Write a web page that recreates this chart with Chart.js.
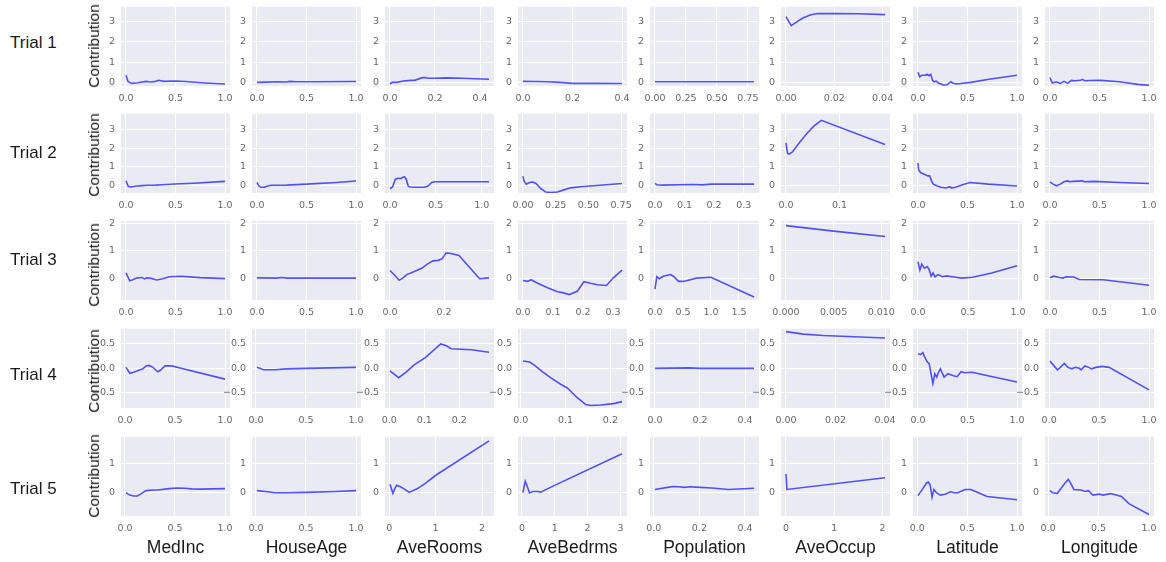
<!DOCTYPE html>
<html>
<head>
<meta charset="utf-8">
<script src="https://cdn.jsdelivr.net/npm/chart.js@4.4.0/dist/chart.umd.min.js"></script>
<style>
  body { margin:0; background:#fff; width:1166px; height:562px; overflow:hidden; position:relative; font-family:"Liberation Sans", Arial, sans-serif; color:#1a1a1a; }
  canvas { position:absolute; }
  .trial { position:absolute; left:10px; font-size:17px; transform:translateY(-50%); white-space:nowrap; }
  .ylab { position:absolute; font-size:15.5px; transform:translate(-50%,-50%) rotate(-90deg); white-space:nowrap; }
  .feat { position:absolute; font-size:17.5px; transform:translate(-50%,-50%); white-space:nowrap; }
</style>
</head>
<body>
<script>
const features = ['MedInc', 'HouseAge', 'AveRooms', 'AveBedrms', 'Population', 'AveOccup', 'Latitude', 'Longitude'];
const trials = ['Trial 1', 'Trial 2', 'Trial 3', 'Trial 4', 'Trial 5'];

// [x, y] points per feature, same order as features
const trial1 = [
  [[0,0.35],[0.02,0.05],[0.06,-0.05],[0.12,-0.02],[0.2,0.05],[0.25,0.02],[0.3,0.05],[0.33,0.1],[0.38,0.05],[0.5,0.07],[0.6,0.04],[0.8,-0.03],[1.0,-0.08]],
  [[0,0.0],[0.1,0.01],[0.2,0.03],[0.3,0.02],[0.33,0.05],[0.4,0.03],[0.6,0.03],[1,0.04]],
  [[0,-0.08],[0.01,0.0],[0.03,0.0],[0.06,0.07],[0.09,0.1],[0.11,0.1],[0.14,0.22],[0.155,0.24],[0.17,0.2],[0.2,0.2],[0.25,0.22],[0.32,0.2],[0.44,0.15]],
  [[0,0.05],[0.05,0.04],[0.1,0.03],[0.15,0.0],[0.2,-0.05],[0.3,-0.05],[0.4,-0.06]],
  [[0,0.03],[0.4,0.03],[0.8,0.03]],
  [[0,3.25],[0.0022,2.8],[0.004,2.95],[0.007,3.18],[0.01,3.33],[0.013,3.4],[0.02,3.4],[0.03,3.39],[0.041,3.35]],
  [[0,0.5],[0.018,0.27],[0.037,0.35],[0.074,0.35],[0.092,0.4],[0.11,0.33],[0.129,0.4],[0.147,0.1],[0.165,0.03],[0.184,0.06],[0.21,-0.05],[0.257,-0.13],[0.294,-0.12],[0.33,0.03],[0.35,-0.03],[0.386,-0.08],[0.533,0],[0.717,0.15],[1.0,0.35]],
  [[0,0.24],[0.022,-0.02],[0.067,0.02],[0.104,-0.05],[0.142,0.05],[0.179,-0.05],[0.216,0.1],[0.254,0.08],[0.31,0.1],[0.328,0.15],[0.35,0.08],[0.403,0.09],[0.515,0.1],[0.7,0.03],[0.888,-0.1],[1.0,-0.15]]
];
const trial2 = [
  [[0,0.23],[0.023,-0.07],[0.05,-0.1],[0.106,-0.05],[0.16,-0.03],[0.22,-0.01],[0.3,0.0],[0.37,0.02],[0.49,0.06],[0.68,0.1],[1,0.2]],
  [[0,0.15],[0.02,-0.05],[0.04,-0.12],[0.076,-0.11],[0.115,-0.04],[0.15,-0.01],[0.3,0.0],[0.5,0.05],[0.8,0.14],[1,0.22]],
  [[0,-0.2],[0.028,-0.1],[0.059,0.32],[0.09,0.37],[0.12,0.36],[0.138,0.41],[0.158,0.45],[0.178,0.32],[0.198,-0.05],[0.217,-0.1],[0.296,-0.12],[0.375,-0.12],[0.415,-0.05],[0.455,0.14],[0.494,0.18],[1.08,0.18]],
  [[0,0.48],[0.008,0.22],[0.025,0.05],[0.05,0.14],[0.075,0.17],[0.1,0.09],[0.138,-0.2],[0.175,-0.38],[0.213,-0.4],[0.263,-0.38],[0.313,-0.26],[0.363,-0.15],[0.438,-0.09],[0.563,-0.02],[0.757,0.09]],
  [[0,0.09],[0.006,0.02],[0.025,0.0],[0.125,0.03],[0.16,0.01],[0.19,0.05],[0.335,0.05]],
  [[0,2.3],[0.003,1.72],[0.006,1.68],[0.012,1.8],[0.025,2.3],[0.039,2.8],[0.052,3.2],[0.066,3.52],[0.185,2.2]],
  [[0,1.2],[0.007,0.82],[0.026,0.68],[0.063,0.59],[0.1,0.5],[0.118,0.5],[0.137,0.23],[0.155,0.05],[0.19,-0.04],[0.23,-0.12],[0.285,-0.16],[0.32,-0.09],[0.34,-0.16],[0.378,-0.12],[0.45,0.02],[0.526,0.14],[0.71,0.05],[1,-0.05]],
  [[0,0.18],[0.03,0.05],[0.067,-0.04],[0.104,0.05],[0.142,0.18],[0.179,0.23],[0.198,0.18],[0.235,0.2],[0.328,0.23],[0.347,0.18],[0.44,0.2],[0.7,0.14],[1,0.09]]
];
const trial3 = [
  [[0,0.19],[0.038,-0.1],[0.068,-0.06],[0.105,0.0],[0.16,0.02],[0.19,-0.03],[0.21,0.01],[0.256,-0.01],[0.31,-0.07],[0.37,-0.02],[0.44,0.05],[0.556,0.07],[0.744,0.02],[1,-0.02]],
  [[0,0.01],[0.2,0.0],[0.25,0.02],[0.3,0.0],[1,0.0]],
  [[0,0.28],[0.021,0.07],[0.034,-0.08],[0.048,0.01],[0.062,0.13],[0.09,0.24],[0.117,0.36],[0.138,0.51],[0.159,0.63],[0.179,0.65],[0.193,0.71],[0.207,0.92],[0.221,0.91],[0.255,0.83],[0.297,0.36],[0.331,-0.02],[0.345,-0.01],[0.366,0.01]],
  [[0,-0.09],[0.016,-0.12],[0.027,-0.06],[0.049,-0.19],[0.082,-0.35],[0.115,-0.5],[0.132,-0.53],[0.154,-0.6],[0.181,-0.48],[0.203,-0.13],[0.225,-0.19],[0.247,-0.24],[0.278,-0.27],[0.302,0.02],[0.33,0.29]],
  [[0,-0.4],[0.033,0.05],[0.08,-0.02],[0.146,0.07],[0.278,0.13],[0.33,0.07],[0.42,-0.12],[0.51,-0.12],[0.74,0.0],[1.0,0.03],[1.77,-0.69]],
  [[0,1.92],[0.005,1.72],[0.0104,1.52]],
  [[0,0.6],[0.019,0.3],[0.038,0.51],[0.064,0.36],[0.094,0.42],[0.113,0.3],[0.132,0.07],[0.151,0.19],[0.17,0.05],[0.2,0.13],[0.245,0.05],[0.283,0.08],[0.358,0.04],[0.434,0.0],[0.547,0.03],[0.736,0.19],[0.99,0.45]],
  [[0,0.01],[0.037,0.07],[0.093,0.02],[0.13,0.0],[0.167,0.05],[0.24,0.04],[0.296,-0.05],[0.537,-0.06],[1,-0.26]]
];
const trial4 = [
  [[0.01,0.02],[0.049,-0.1],[0.087,-0.08],[0.125,-0.05],[0.18,-0.01],[0.21,0.05],[0.24,0.06],[0.28,0.02],[0.327,-0.07],[0.354,-0.04],[0.4,0.05],[0.468,0.05],[0.56,0.0],[1,-0.22]],
  [[0.01,0.02],[0.076,-0.03],[0.115,-0.03],[0.19,-0.03],[0.3,-0.01],[0.5,0.0],[1,0.02]],
  [[0.002,-0.05],[0.027,-0.19],[0.049,-0.07],[0.071,0.07],[0.103,0.22],[0.147,0.5],[0.163,0.46],[0.177,0.4],[0.234,0.38],[0.285,0.33]],
  [[0.005,0.15],[0.02,0.13],[0.031,0.06],[0.049,-0.07],[0.068,-0.2],[0.09,-0.33],[0.104,-0.4],[0.126,-0.6],[0.145,-0.74],[0.156,-0.76],[0.178,-0.75],[0.207,-0.72],[0.226,-0.68]],
  [[0,0.0],[0.15,0.01],[0.2,0.0],[0.44,0.0]],
  [[0,0.75],[0.007,0.7],[0.015,0.67],[0.04,0.62]],
  [[0,0.3],[0.026,0.28],[0.049,0.32],[0.064,0.25],[0.094,0.13],[0.113,0.1],[0.132,-0.11],[0.151,-0.31],[0.17,-0.11],[0.189,-0.18],[0.208,-0.08],[0.226,-0.01],[0.264,-0.18],[0.302,-0.11],[0.358,-0.15],[0.396,-0.17],[0.434,-0.07],[0.472,-0.09],[0.547,-0.08],[0.66,-0.13],[1,-0.28]],
  [[0.008,0.15],[0.057,0.03],[0.083,-0.03],[0.113,0.02],[0.151,0.1],[0.189,0.02],[0.226,-0.01],[0.264,0.02],[0.302,0.0],[0.32,-0.03],[0.358,0.05],[0.396,0.02],[0.423,-0.01],[0.47,0.02],[0.528,0.04],[0.6,0.02],[1,-0.44]]
];
const trial5 = [
  [[0.01,0.0],[0.049,-0.08],[0.086,-0.11],[0.124,-0.11],[0.16,-0.04],[0.21,0.07],[0.274,0.09],[0.33,0.09],[0.44,0.14],[0.52,0.16],[0.594,0.15],[0.67,0.13],[0.744,0.12],[1,0.14]],
  [[0.01,0.07],[0.115,0.03],[0.19,0.0],[0.3,0.0],[0.5,0.01],[0.8,0.04],[1,0.07]],
  [[0.016,0.29],[0.08,-0.02],[0.12,0.14],[0.16,0.25],[0.24,0.2],[0.32,0.13],[0.43,0.01],[0.61,0.14],[0.77,0.31],[1.01,0.6],[2.15,1.76]],
  [[0.03,0.0],[0.1,0.39],[0.16,0.22],[0.23,-0.01],[0.33,0.04],[0.48,0.04],[0.58,0.02],[0.68,0.08],[1.09,0.3],[3.05,1.32]],
  [[0.005,0.11],[0.029,0.14],[0.061,0.18],[0.085,0.21],[0.11,0.2],[0.134,0.18],[0.158,0.2],[0.182,0.19],[0.255,0.16],[0.327,0.11],[0.44,0.15]],
  [[0,0.64],[0.02,0.11],[2.05,0.51]],
  [[0.007,-0.1],[0.056,0.14],[0.093,0.33],[0.111,0.36],[0.13,0.25],[0.148,-0.15],[0.167,0.11],[0.193,0.0],[0.23,-0.08],[0.278,-0.05],[0.333,0.03],[0.37,0.0],[0.407,0.0],[0.48,0.11],[0.537,0.11],[0.59,0.03],[0.7,-0.13],[1,-0.24]],
  [[0.018,0.07],[0.044,0.0],[0.091,-0.02],[0.127,0.14],[0.164,0.31],[0.2,0.45],[0.225,0.31],[0.255,0.11],[0.327,0.09],[0.364,0.04],[0.4,0.07],[0.444,-0.08],[0.51,-0.05],[0.545,-0.08],[0.618,-0.03],[0.673,-0.08],[0.727,-0.13],[0.8,-0.37],[1,-0.74]]
];
const trialData = [trial1, trial2, trial3, trial4, trial5];

// x tick labels per panel
const u1 = ['0.0', '0.5', '1.0'];
const trial1XTicks = [u1, u1, ['0.0','0.2','0.4'], ['0.0','0.2','0.4'], ['0.00','0.25','0.50','0.75'], ['0.00','0.02','0.04'], u1, u1];
const trial2XTicks = [u1, u1, u1, ['0.00','0.25','0.50','0.75'], ['0.0','0.1','0.2','0.3'], ['0.0','0.1'], u1, u1];
const trial3XTicks = [u1, u1, ['0.0','0.2'], ['0.0','0.1','0.2','0.3'], ['0.0','0.5','1.0','1.5'], ['0.000','0.005','0.010'], u1, u1];
const trial4XTicks = [u1, u1, ['0.0','0.1','0.2'], ['0.0','0.1','0.2'], ['0.0','0.2','0.4'], ['0.00','0.02','0.04'], u1, u1];
const trial5XTicks = [u1, u1, ['0','1','2'], ['0','1','2','3'], ['0.0','0.2','0.4'], ['0','1','2'], u1, u1];
const xTickRows = [trial1XTicks, trial2XTicks, trial3XTicks, trial4XTicks, trial5XTicks];

// shared y axis per row
const rowYTicks = [['0','1','2','3'], ['0','1','2','3'], ['0','1','2'], ['\u22120.5','0.0','0.5'], ['0','1']];
const rowYRange = [[-0.18, 3.74], [-0.43, 3.88], [-0.8, 2.1], [-0.81, 0.81], [-0.79, 1.9]];

// layout
const colLeft = [121, 252, 385, 518, 650, 781, 913, 1045];
const rowTop = [3, 110, 217, 325, 433];
const PW = 109, PH = 83;
const PAD_L = 34, PAD_T = 8, PAD_R = 16, PAD_B = 24;
const trialY = [43, 153, 260, 375, 489];
const ylabY = [46, 155, 265, 371, 476];

const bgPlugin = {
  id: 'bg',
  beforeDraw(chart) {
    const a = chart.chartArea, c = chart.ctx;
    c.save();
    c.fillStyle = '#EAEAF2';
    c.fillRect(a.left, a.top, a.right - a.left, a.bottom - a.top);
    c.restore();
  }
};

const toNum = s => parseFloat(s.replace('\u2212', '-'));
const tickFont = { family: 'DejaVu Sans', size: 9.5 };

function addText(cls, text, x, y) {
  const d = document.createElement('div');
  d.className = cls;
  d.textContent = text;
  if (x !== null) d.style.left = x + 'px';
  d.style.top = y + 'px';
  document.body.appendChild(d);
}

trialData.forEach((row, r) => {
  row.forEach((pts, c) => {
    const canvas = document.createElement('canvas');
    canvas.width = PW + PAD_L + PAD_R;
    canvas.height = PH + PAD_T + PAD_B;
    canvas.style.left = (colLeft[c] - PAD_L) + 'px';
    canvas.style.top = (rowTop[r] - PAD_T) + 'px';
    document.body.appendChild(canvas);

    const xs = pts.map(p => p[0]);
    const x0 = Math.min(...xs), x1 = Math.max(...xs);
    const xm = (x1 - x0) * 0.05;
    const xl = xTickRows[r][c];
    const yl = rowYTicks[r];

    new Chart(canvas, {
      type: 'line',
      data: {
        datasets: [{
          data: pts.map(p => ({ x: p[0], y: p[1] })),
          borderColor: 'rgba(0,0,255,0.66)',
          borderWidth: 1.6,
          pointRadius: 0,
          tension: 0,
          fill: false
        }]
      },
      options: {
        responsive: false,
        animation: false,
        events: [],
        layout: { padding: { left: 0, top: PAD_T, right: PAD_R, bottom: 0 } },
        plugins: { legend: { display: false }, tooltip: { enabled: false } },
        scales: {
          x: {
            type: 'linear',
            min: x0 - xm,
            max: x1 + xm,
            afterBuildTicks: s => { s.ticks = xl.map(l => ({ value: toNum(l) })); },
            afterFit: s => { s.height = PAD_B; },
            ticks: { autoSkip: false, maxRotation: 0, padding: 7, color: '#666', font: tickFont, callback: (v, i) => xl[i] },
            grid: { color: '#fff', lineWidth: 1, drawTicks: false },
            border: { display: false }
          },
          y: {
            min: rowYRange[r][0],
            max: rowYRange[r][1],
            afterBuildTicks: s => { s.ticks = yl.map(l => ({ value: toNum(l) })); },
            afterFit: s => { s.width = PAD_L; },
            ticks: { autoSkip: false, padding: 6, color: '#666', font: tickFont, callback: (v, i) => yl[i] },
            grid: { color: '#fff', lineWidth: 1, drawTicks: false },
            border: { display: false }
          }
        }
      },
      plugins: [bgPlugin]
    });
  });
  addText('trial', trials[r], null, trialY[r]);
  addText('ylab', 'Contribution', 94, ylabY[r]);
});

features.forEach((f, c) => addText('feat', f, colLeft[c] + PW / 2, 547));
</script>
</body>
</html>
